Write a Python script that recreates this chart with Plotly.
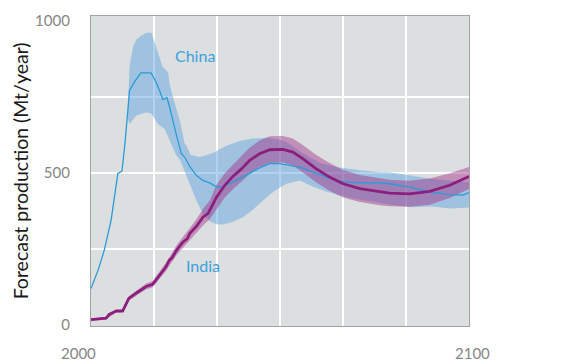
import plotly.graph_objects as go

# ---- data ----
china_years = [2000, 2000.9, 2002, 2003.5, 2005.3, 2007.1, 2008.2, 2009.0, 2009.6, 2010.2, 2011.5, 2013.2,
               2015.9, 2017.2, 2018.2, 2019, 2020.1, 2020.8, 2022.6, 2023.9, 2024.8, 2026.1, 2027.9,
               2029.6, 2031.4, 2033.2, 2034.9, 2036.7, 2039.3, 2042, 2044.6, 2047.3, 2049.9, 2055.2,
               2058.7, 2062.3, 2065.8, 2070.2, 2076.4, 2079, 2084.3, 2089.6, 2094.9, 2098.4, 2100]
china_values = [120, 147, 185, 246, 344, 498, 507, 600, 680, 772, 800, 830,
                830, 800, 770, 742, 748, 717, 625, 564, 553, 522, 492,
                476, 468, 455, 455, 465, 482, 500, 517, 531, 531, 520,
                503, 487, 474, 468, 468, 465, 454, 438, 429, 428, 436]

china_upper_years = [2009.7, 2010.2, 2010.6, 2011.1, 2012, 2013.3, 2014.7, 2016.0, 2017.6, 2019, 2020.4,
                     2020.8, 2021.7, 2023.5, 2024.8, 2025.2, 2026.4, 2028.8, 2032.3, 2035.8, 2039.3,
                     2042.9, 2046.4, 2049.9, 2052, 2056, 2060.5, 2064.9, 2070.2, 2076.4, 2079, 2084.3,
                     2089.6, 2095, 2100]
china_upper = [700, 850, 880, 914, 940, 953, 962, 962, 900, 848, 832,
               794, 750, 673, 597, 591, 560, 553, 566, 590, 606,
               614, 616, 610, 600, 565, 533, 520, 511, 503, 503, 492,
               482, 475, 470]

china_lower_years = [2009.7, 2010.2, 2012, 2014.7, 2016, 2017.7, 2019.5, 2020.5, 2021.5, 2022.5, 2023.5,
                     2024.3, 2026.1, 2027.9, 2029.6, 2031.4, 2033.2, 2035, 2037.6, 2040.2, 2042.9,
                     2045.5, 2047.3, 2049.9, 2051.7, 2055.2, 2058.7, 2062, 2065, 2070, 2075, 2080,
                     2085, 2090, 2095, 2100]
china_lower = [680, 662, 690, 700, 695, 662, 645, 620, 590, 560, 545,
               520, 465, 410, 366, 342, 332, 331, 340, 355, 380,
               410, 430, 452, 465, 476, 456, 440, 430, 415, 405, 395,
               388, 390, 384, 387]

india_years = [2000, 2002, 2004, 2004.8, 2005.5, 2006.6, 2008.4, 2009.5, 2010, 2012.4, 2014.6, 2016.3,
               2018.1, 2019.8, 2020.7, 2021.5, 2022.6, 2024.3, 2025.5, 2026.1, 2027.9, 2029.6, 2031,
               2032.3, 2033.2, 2035.4, 2036.5, 2037.6, 2039.8, 2042, 2044.6, 2047.3, 2050.8, 2053.4,
               2056.1, 2059.6, 2063.1, 2066.7, 2071.1, 2076.4, 2079, 2084.3, 2089.6, 2094.9, 2100]
india_values = [18, 20, 23, 35, 40, 46, 47, 78, 88, 109, 127, 134,
                163, 191, 213, 222, 246, 273, 285, 301, 325, 355, 368,
                399, 421, 460, 475, 490, 514, 542, 564, 577, 578, 569,
                547, 514, 487, 465, 449, 438, 434, 432, 440, 460, 489]

india_band_years = [2000, 2004, 2006.6, 2008.4, 2010, 2012.4, 2014.6, 2016.3, 2018.1, 2019.8, 2022.6,
                    2024.3, 2026.1, 2027.9, 2029.6, 2031.4, 2033.2, 2035.4, 2037.6, 2039.8, 2042,
                    2044.6, 2047.3, 2050.8, 2053.4, 2056.1, 2059.6, 2063.1, 2066.7, 2071.1, 2076.4,
                    2079, 2084.3, 2089.6, 2094.9, 2100]
india_lower = [14, 18, 41, 41, 80, 101, 118, 124, 150, 177, 230,
               256, 282, 304, 328, 348, 380, 420, 448, 472, 498,
               520, 533, 535, 525, 502, 469, 442, 420, 405, 394,
               391, 389, 396, 418, 448]
india_upper = [22, 27, 52, 53, 95, 118, 137, 145, 176, 205, 262,
               290, 320, 348, 382, 410, 462, 500, 528, 556, 584,
               607, 621, 622, 614, 592, 560, 533, 510, 494, 482,
               478, 475, 482, 500, 520]

x_tick_values = [2000, 2100]
x_tick_labels = ["2000", "2100"]
y_tick_values = [0, 500, 1000]
y_tick_labels = ["0", "500", "1000"]
x_grid = [2000 + 100 * k / 6 for k in range(1, 6)]
y_grid = [250, 500, 750]

FONT = "Lato"
CHINA_COLOR = "#2b9bd8"
INDIA_COLOR = "#8c1f7e"

fig = go.Figure()

fig.add_trace(go.Scatter(
    x=china_upper_years + china_lower_years[::-1],
    y=china_upper + china_lower[::-1],
    fill="toself", fillcolor="rgba(100,165,225,0.5)",
    line=dict(width=0), mode="lines", hoverinfo="skip", showlegend=False))

fig.add_trace(go.Scatter(
    x=india_band_years + india_band_years[::-1],
    y=india_upper + india_lower[::-1],
    fill="toself", fillcolor="rgba(160,40,130,0.44)",
    line=dict(width=0), mode="lines", hoverinfo="skip", showlegend=False))

fig.add_trace(go.Scatter(x=china_years, y=china_values, mode="lines",
                         line=dict(color=CHINA_COLOR, width=1.3), name="China", showlegend=False))
fig.add_trace(go.Scatter(x=india_years, y=india_values, mode="lines",
                         line=dict(color=INDIA_COLOR, width=2.8), name="India", showlegend=False))

annotations = [
    dict(x=2000, y=0, xref="x", yref="paper", text=x_tick_labels[0], showarrow=False,
         xanchor="center", yanchor="middle", xshift=-13, yshift=-27,
         font=dict(family=FONT, size=15, color="#858585")),
    dict(x=2100, y=0, xref="x", yref="paper", text=x_tick_labels[1], showarrow=False,
         xanchor="center", yanchor="middle", xshift=3, yshift=-27,
         font=dict(family=FONT, size=15, color="#858585")),
    dict(x=-0.187, y=0.5, xref="paper", yref="paper", text="Forecast production (Mt/year)",
         textangle=-90, showarrow=False, xanchor="center", yanchor="middle",
         font=dict(family=FONT, size=19.5, color="#1a1a1a")),
    dict(x=0.5, y=0, xref="paper", yref="paper", text="Year", showarrow=False,
         xanchor="center", yanchor="top", yshift=-33,
         font=dict(family=FONT, size=19, color="#1a1a1a")),
    dict(x=2027.5, y=888, xref="x", yref="y", text="China", showarrow=False,
         font=dict(family=FONT, size=16, color="#3aa2dd")),
    dict(x=2029.5, y=195, xref="x", yref="y", text="India", showarrow=False,
         font=dict(family=FONT, size=16, color="#3aa2dd")),
]

# the page body has an 8px margin, so the figure is drawn 8px in from the corner
fig.update_layout(
    width=573, height=356,
    margin=dict(l=83, r=112, t=8, b=38, autoexpand=False),
    paper_bgcolor="white", plot_bgcolor="#dcdfe0",
    annotations=annotations,
    xaxis=dict(range=[2000, 2100], showgrid=False, zeroline=False, automargin=False,
               tickvals=x_tick_values, ticktext=x_tick_labels, showticklabels=False,
               showline=True, mirror=True, linecolor="#a3a3a3", linewidth=1.2,
               minor=dict(tickvals=x_grid, showgrid=True, gridcolor="white", gridwidth=2, ticks="")),
    yaxis=dict(range=[-3, 1017], showgrid=False, zeroline=False, automargin=False,
               tickvals=y_tick_values, ticktext=y_tick_labels, ticks="",
               ticklabelstandoff=17,
               tickfont=dict(family=FONT, size=15, color="#858585"),
               showline=True, mirror=True, linecolor="#a3a3a3", linewidth=1.2,
               minor=dict(tickvals=y_grid, showgrid=True, gridcolor="white", gridwidth=2, ticks="")),
)

fig.write_html("out.html")
